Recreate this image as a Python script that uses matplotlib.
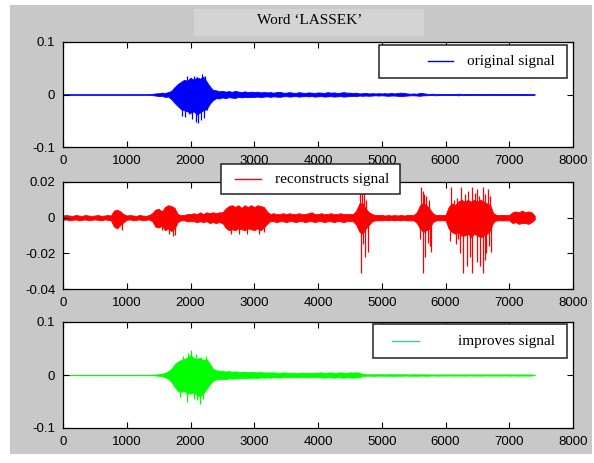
"""
Word 'LASSEK': original, reconstructed and improved speech signal.
Each waveform is stored as its upper/lower envelope every 50 samples
plus the isolated peaks that stick out of it, read off the reference.
"""

import numpy as np
import matplotlib
matplotlib.use('Agg')
import matplotlib.pyplot as plt
from matplotlib.patches import Rectangle
from matplotlib.lines import Line2D

W, H = 594, 463          # output size in pixels
STEP = 50                # samples between two stored envelope values

title = "Word \u2018LASSEK\u2019"
labels = ["original signal", "reconstructs signal", "improves signal"]
x_ticks = [0, 1000, 2000, 3000, 4000, 5000, 6000, 7000, 8000]

# ---- original signal (envelope at samples 0, 50, ..., 7400) ----
blue_hi = [
    0.0003, 0.0004, 0.0003, 0.0004, 0.0003, 0.0003, 0.0004, 0.0003, 0.0004, 0.0003,
    0.0003, 0.0004, 0.0003, 0.0004, 0.0003, 0.0003, 0.0004, 0.0003, 0.0004, 0.0003,
    0.0003, 0.0004, 0.0003, 0.0004, 0.0003, 0.0004, 0.0003, 0.0005, 0.0012, 0.0020,
    0.0025, 0.0035, 0.0030, 0.0045, 0.0070, 0.0140, 0.0200, 0.0240, 0.0280, 0.0260,
    0.0320, 0.0280, 0.0330, 0.0300, 0.0340, 0.0250, 0.0160, 0.0090, 0.0080, 0.0060,
    0.0070, 0.0055, 0.0065, 0.0050, 0.0070, 0.0055, 0.0045, 0.0060, 0.0045, 0.0055,
    0.0045, 0.0055, 0.0040, 0.0050, 0.0040, 0.0045, 0.0035, 0.0045, 0.0050, 0.0035,
    0.0035, 0.0045, 0.0035, 0.0030, 0.0045, 0.0035, 0.0030, 0.0040, 0.0035, 0.0030,
    0.0040, 0.0035, 0.0030, 0.0045, 0.0035, 0.0040, 0.0030, 0.0035, 0.0045, 0.0035,
    0.0035, 0.0030, 0.0035, 0.0020, 0.0025, 0.0030, 0.0020, 0.0025, 0.0020, 0.0025,
    0.0020, 0.0025, 0.0020, 0.0030, 0.0020, 0.0030, 0.0035, 0.0030, 0.0020, 0.0015,
    0.0020, 0.0015, 0.0030, 0.0025, 0.0015, 0.0010, 0.0015, 0.0010, 0.0012, 0.0010,
    0.0010, 0.0012, 0.0008, 0.0010, 0.0015, 0.0010, 0.0008, 0.0010, 0.0008, 0.0012,
    0.0010, 0.0008, 0.0012, 0.0008, 0.0010, 0.0012, 0.0008, 0.0010, 0.0008, 0.0010,
    0.0008, 0.0010, 0.0012, 0.0010, 0.0008, 0.0010, 0.0008, 0.0008, 0.0003,
]
blue_lo = [
    -0.0003, -0.0004, -0.0003, -0.0004, -0.0003, -0.0003, -0.0004, -0.0003, -0.0004, -0.0003,
    -0.0003, -0.0004, -0.0003, -0.0004, -0.0003, -0.0003, -0.0004, -0.0003, -0.0004, -0.0003,
    -0.0003, -0.0004, -0.0003, -0.0004, -0.0003, -0.0004, -0.0003, -0.0005, -0.0012, -0.0020,
    -0.0030, -0.0025, -0.0045, -0.0040, -0.0090, -0.0160, -0.0220, -0.0280, -0.0300, -0.0320,
    -0.0350, -0.0320, -0.0380, -0.0340, -0.0300, -0.0280, -0.0180, -0.0110, -0.0070, -0.0075,
    -0.0055, -0.0070, -0.0050, -0.0060, -0.0065, -0.0045, -0.0055, -0.0045, -0.0050, -0.0045,
    -0.0045, -0.0040, -0.0050, -0.0040, -0.0035, -0.0045, -0.0035, -0.0040, -0.0045, -0.0035,
    -0.0030, -0.0040, -0.0035, -0.0030, -0.0040, -0.0035, -0.0030, -0.0035, -0.0030, -0.0040,
    -0.0035, -0.0030, -0.0040, -0.0035, -0.0030, -0.0040, -0.0035, -0.0030, -0.0040, -0.0035,
    -0.0030, -0.0025, -0.0030, -0.0020, -0.0025, -0.0020, -0.0025, -0.0020, -0.0015, -0.0020,
    -0.0015, -0.0020, -0.0025, -0.0020, -0.0020, -0.0025, -0.0030, -0.0025, -0.0020, -0.0015,
    -0.0015, -0.0020, -0.0025, -0.0015, -0.0015, -0.0010, -0.0012, -0.0015, -0.0010, -0.0010,
    -0.0010, -0.0008, -0.0012, -0.0010, -0.0015, -0.0008, -0.0010, -0.0008, -0.0012, -0.0008,
    -0.0008, -0.0010, -0.0008, -0.0012, -0.0008, -0.0010, -0.0010, -0.0008, -0.0010, -0.0008,
    -0.0010, -0.0008, -0.0010, -0.0008, -0.0012, -0.0008, -0.0010, -0.0008, -0.0003,
]
blue_peak_x = [1870, 1920, 1980, 2030, 2080, 2110, 2160, 2210, 2260,
               1950, 2060, 2180, 2230]
blue_peak_y = [-0.040, -0.042, -0.038, -0.046, -0.052, -0.054, -0.048, -0.044, -0.030,
               0.035, 0.036, 0.039, 0.036]

# ---- reconstructed signal ----
red_hi = [
    0.0012, 0.0015, 0.0012, 0.0010, 0.0015, 0.0012, 0.0010, 0.0015, 0.0012, 0.0010,
    0.0012, 0.0015, 0.0010, 0.0012, 0.0015, 0.0012, 0.0040, 0.0045, 0.0035, 0.0020,
    0.0012, 0.0015, 0.0012, 0.0010, 0.0015, 0.0012, 0.0010, 0.0015, 0.0025, 0.0045,
    0.0050, 0.0035, 0.0060, 0.0070, 0.0065, 0.0055, 0.0020, 0.0015, 0.0015, 0.0020,
    0.0020, 0.0025, 0.0020, 0.0030, 0.0020, 0.0030, 0.0025, 0.0030, 0.0025, 0.0030,
    0.0030, 0.0050, 0.0065, 0.0070, 0.0060, 0.0070, 0.0055, 0.0070, 0.0060, 0.0070,
    0.0060, 0.0070, 0.0065, 0.0060, 0.0035, 0.0020, 0.0025, 0.0020, 0.0020, 0.0025,
    0.0020, 0.0025, 0.0020, 0.0020, 0.0025, 0.0020, 0.0020, 0.0025, 0.0030, 0.0020,
    0.0020, 0.0025, 0.0020, 0.0020, 0.0025, 0.0020, 0.0020, 0.0025, 0.0020, 0.0020,
    0.0020, 0.0020, 0.0040, 0.0080, 0.0080, 0.0050, 0.0030, 0.0020, 0.0015, 0.0015,
    0.0015, 0.0012, 0.0015, 0.0012, 0.0015, 0.0012, 0.0015, 0.0012, 0.0015, 0.0015,
    0.0015, 0.0030, 0.0070, 0.0080, 0.0070, 0.0050, 0.0025, 0.0015, 0.0015, 0.0015,
    0.0015, 0.0060, 0.0080, 0.0070, 0.0090, 0.0100, 0.0090, 0.0100, 0.0090, 0.0100,
    0.0090, 0.0100, 0.0090, 0.0080, 0.0070, 0.0025, 0.0015, 0.0015, 0.0015, 0.0015,
    0.0015, 0.0030, 0.0035, 0.0030, 0.0040, 0.0030, 0.0035, 0.0030, 0.0010,
]
red_lo = [
    -0.0012, -0.0010, -0.0015, -0.0012, -0.0010, -0.0015, -0.0012, -0.0010, -0.0015, -0.0012,
    -0.0010, -0.0012, -0.0015, -0.0010, -0.0012, -0.0015, -0.0050, -0.0060, -0.0040, -0.0025,
    -0.0012, -0.0010, -0.0015, -0.0012, -0.0010, -0.0015, -0.0012, -0.0010, -0.0020, -0.0050,
    -0.0055, -0.0045, -0.0070, -0.0060, -0.0075, -0.0060, -0.0025, -0.0015, -0.0015, -0.0020,
    -0.0020, -0.0020, -0.0025, -0.0020, -0.0025, -0.0020, -0.0030, -0.0025, -0.0030, -0.0025,
    -0.0030, -0.0055, -0.0070, -0.0065, -0.0070, -0.0060, -0.0065, -0.0070, -0.0060, -0.0065,
    -0.0070, -0.0060, -0.0070, -0.0055, -0.0035, -0.0020, -0.0020, -0.0025, -0.0020, -0.0020,
    -0.0025, -0.0020, -0.0020, -0.0025, -0.0020, -0.0020, -0.0025, -0.0020, -0.0020, -0.0025,
    -0.0020, -0.0020, -0.0025, -0.0020, -0.0020, -0.0025, -0.0020, -0.0020, -0.0025, -0.0020,
    -0.0020, -0.0020, -0.0040, -0.0080, -0.0090, -0.0060, -0.0040, -0.0020, -0.0015, -0.0015,
    -0.0015, -0.0012, -0.0015, -0.0012, -0.0015, -0.0012, -0.0015, -0.0012, -0.0015, -0.0015,
    -0.0015, -0.0030, -0.0060, -0.0080, -0.0070, -0.0060, -0.0025, -0.0015, -0.0015, -0.0015,
    -0.0015, -0.0060, -0.0080, -0.0090, -0.0080, -0.0100, -0.0100, -0.0090, -0.0110, -0.0090,
    -0.0100, -0.0110, -0.0100, -0.0090, -0.0070, -0.0025, -0.0015, -0.0015, -0.0015, -0.0015,
    -0.0015, -0.0030, -0.0025, -0.0035, -0.0030, -0.0030, -0.0035, -0.0025, -0.0010,
]
red_peak_x = [920, 1560, 1660, 1720, 1760,
              2630, 2760, 2880, 3070, 3150,
              4660, 4690, 4720, 4760, 4675, 4700, 4730, 4780,
              5610, 5640, 5660, 5700, 5740,
              5600, 5640, 5680, 5720, 5750, 5770,
              6080, 6130, 6180, 6250, 6300, 6360, 6420, 6460, 6500, 6530,
              6590, 6620, 6660, 6700,
              6070, 6160, 6200, 6230, 6280, 6340, 6380, 6410, 6490, 6540,
              6590, 6620, 6640, 6680, 6720]
red_peak_y = [-0.0070, -0.0070, -0.0090, -0.0100, -0.0095,
              -0.0090, -0.0090, -0.0092, -0.0090, -0.0080,
              0.021, 0.021, 0.021, 0.010, -0.031, -0.015, -0.022, -0.019,
              0.017, 0.015, 0.013, 0.012, 0.010,
              -0.012, -0.031, -0.022, -0.014, -0.016, -0.019,
              0.017, 0.010, 0.011, 0.017, 0.013, 0.015, 0.017, 0.014, 0.016, 0.012,
              0.017, 0.013, 0.016, 0.012,
              -0.013, -0.015, -0.012, -0.020, -0.031, -0.027, -0.022, -0.031, -0.025, -0.027,
              -0.031, -0.024, -0.020, -0.016, -0.019]

# ---- improved signal ----
green_hi = [
    0.0003, 0.0004, 0.0003, 0.0004, 0.0003, 0.0003, 0.0004, 0.0003, 0.0004, 0.0003,
    0.0003, 0.0004, 0.0003, 0.0004, 0.0003, 0.0003, 0.0004, 0.0003, 0.0004, 0.0003,
    0.0003, 0.0004, 0.0003, 0.0004, 0.0003, 0.0004, 0.0003, 0.0004, 0.0005, 0.0008,
    0.0015, 0.0025, 0.0040, 0.0070, 0.0120, 0.0200, 0.0250, 0.0280, 0.0300, 0.0330,
    0.0380, 0.0320, 0.0300, 0.0330, 0.0280, 0.0300, 0.0220, 0.0120, 0.0090, 0.0080,
    0.0080, 0.0065, 0.0075, 0.0060, 0.0070, 0.0060, 0.0055, 0.0065, 0.0050, 0.0060,
    0.0055, 0.0050, 0.0060, 0.0045, 0.0050, 0.0045, 0.0050, 0.0045, 0.0040, 0.0050,
    0.0045, 0.0040, 0.0045, 0.0035, 0.0040, 0.0045, 0.0040, 0.0045, 0.0035, 0.0045,
    0.0045, 0.0050, 0.0040, 0.0045, 0.0050, 0.0040, 0.0045, 0.0050, 0.0045, 0.0040,
    0.0050, 0.0045, 0.0050, 0.0045, 0.0020, 0.0015, 0.0012, 0.0015, 0.0012, 0.0015,
    0.0015, 0.0012, 0.0015, 0.0015, 0.0012, 0.0015, 0.0012, 0.0015, 0.0012, 0.0012,
    0.0015, 0.0012, 0.0012, 0.0015, 0.0012, 0.0012, 0.0010, 0.0012, 0.0010, 0.0012,
    0.0010, 0.0012, 0.0010, 0.0010, 0.0012, 0.0010, 0.0010, 0.0012, 0.0010, 0.0010,
    0.0012, 0.0010, 0.0010, 0.0012, 0.0010, 0.0010, 0.0012, 0.0010, 0.0010, 0.0012,
    0.0010, 0.0010, 0.0012, 0.0010, 0.0010, 0.0012, 0.0010, 0.0010, 0.0003,
]
green_lo = [
    -0.0003, -0.0004, -0.0003, -0.0004, -0.0003, -0.0003, -0.0004, -0.0003, -0.0004, -0.0003,
    -0.0003, -0.0004, -0.0003, -0.0004, -0.0003, -0.0003, -0.0004, -0.0003, -0.0004, -0.0003,
    -0.0003, -0.0004, -0.0003, -0.0004, -0.0003, -0.0004, -0.0003, -0.0004, -0.0005, -0.0008,
    -0.0015, -0.0025, -0.0040, -0.0070, -0.0130, -0.0220, -0.0300, -0.0320, -0.0300, -0.0350,
    -0.0350, -0.0330, -0.0380, -0.0400, -0.0350, -0.0260, -0.0180, -0.0110, -0.0080, -0.0080,
    -0.0070, -0.0080, -0.0060, -0.0070, -0.0060, -0.0065, -0.0050, -0.0060, -0.0055, -0.0050,
    -0.0050, -0.0055, -0.0045, -0.0050, -0.0045, -0.0050, -0.0040, -0.0045, -0.0050, -0.0040,
    -0.0040, -0.0045, -0.0035, -0.0040, -0.0045, -0.0035, -0.0040, -0.0045, -0.0040, -0.0035,
    -0.0040, -0.0045, -0.0050, -0.0040, -0.0045, -0.0050, -0.0040, -0.0045, -0.0050, -0.0045,
    -0.0045, -0.0050, -0.0045, -0.0040, -0.0020, -0.0015, -0.0012, -0.0015, -0.0015, -0.0012,
    -0.0012, -0.0015, -0.0012, -0.0015, -0.0015, -0.0012, -0.0015, -0.0012, -0.0012, -0.0015,
    -0.0012, -0.0015, -0.0012, -0.0012, -0.0015, -0.0012, -0.0010, -0.0012, -0.0012, -0.0010,
    -0.0012, -0.0010, -0.0010, -0.0012, -0.0010, -0.0010, -0.0012, -0.0010, -0.0010, -0.0012,
    -0.0010, -0.0012, -0.0010, -0.0010, -0.0012, -0.0010, -0.0010, -0.0012, -0.0010, -0.0010,
    -0.0012, -0.0010, -0.0010, -0.0012, -0.0010, -0.0010, -0.0012, -0.0010, -0.0003,
]
green_peak_x = [1880, 1960, 2000, 2080, 2250,
                1830, 1950, 2050, 2100, 2150, 2200]
green_peak_y = [0.035, 0.042, 0.047, 0.040, 0.036,
                -0.042, -0.050, -0.045, -0.048, -0.055, -0.046]

SANS = ['Liberation Sans', 'DejaVu Sans']
SERIF = ['Liberation Serif', 'DejaVu Serif']
plt.rcParams['axes.unicode_minus'] = False
plt.rcParams['font.family'] = SANS


def fig_box(x0, y0, x1, y1):
    """pixel box (top-left origin) -> figure fraction [l, b, w, h]"""
    return [x0 / W, 1 - y1 / H, (x1 - x0) / W, (y1 - y0) / H]


def fx(x):
    return x / W


def fy(y):
    return 1 - y / H


def draw_wave(ax, hi, lo, peak_x, peak_y, color, ylim, yticks, yticklabels):
    x = np.arange(len(hi)) * STEP
    ax.fill_between(x, lo, hi, facecolor=color, edgecolor=color, linewidth=0.6)
    ax.vlines(peak_x, 0, peak_y, color=color, linewidth=0.9)
    ax.set_xlim(0, 8000)
    ax.set_ylim(*ylim)
    ax.set_xticks(x_ticks)
    ax.set_xticklabels([str(t) for t in x_ticks])
    ax.set_yticks(yticks)
    ax.set_yticklabels(yticklabels)
    ax.tick_params(direction='in', top=True, right=True, length=4,
                   width=0.8, labelsize=9.5, pad=5.5)
    for s in ax.spines.values():
        s.set_linewidth(0.9)


def draw_legend(fig, box, line_x, line_y, text_right, text, color):
    x0, y0, x1, y1 = box
    l, b, w, h = fig_box(x0, y0, x1, y1)
    fig.add_artist(Rectangle((l, b), w, h, transform=fig.transFigure,
                             facecolor='white', edgecolor='#222222',
                             linewidth=1.1, zorder=5))
    fig.add_artist(Line2D([fx(line_x[0]), fx(line_x[1])], [fy(line_y)] * 2,
                          transform=fig.transFigure, color=color,
                          linewidth=1.0, zorder=6))
    fig.text(fx(text_right), fy(line_y), text, ha='right', va='center',
             fontsize=11, family=SERIF, zorder=6)


def main():
    fig = plt.figure(figsize=(W / 100, H / 100), dpi=100, facecolor='white')

    # grey MATLAB-like window background and the lighter title patch
    l, b, w, h = fig_box(10, 5, 592, 454)
    fig.add_artist(Rectangle((l, b), w, h, transform=fig.transFigure,
                             facecolor='#c8c8c8', edgecolor='none', zorder=-10))
    l, b, w, h = fig_box(194, 9, 424, 36)
    fig.add_artist(Rectangle((l, b), w, h, transform=fig.transFigure,
                             facecolor='#d4d4d4', edgecolor='none', zorder=-9))
    fig.text(fx(310), fy(21), title, ha='center', va='center',
             fontsize=11, family=SERIF)

    ax1 = fig.add_axes(fig_box(63, 42, 573, 147))
    ax2 = fig.add_axes(fig_box(63, 182, 573, 289))
    ax3 = fig.add_axes(fig_box(63, 322, 573, 428))

    draw_wave(ax1, blue_hi, blue_lo, blue_peak_x, blue_peak_y, '#0000ff',
              (-0.1, 0.1), [-0.1, 0, 0.1], ['-0.1', '0', '0.1'])
    draw_wave(ax2, red_hi, red_lo, red_peak_x, red_peak_y, '#ff0000',
              (-0.04, 0.02), [-0.04, -0.02, 0, 0.02],
              ['-0.04', '-0.02', '0', '0.02'])
    draw_wave(ax3, green_hi, green_lo, green_peak_x, green_peak_y, '#00ff00',
              (-0.1, 0.1), [-0.1, 0, 0.1], ['-0.1', '0', '0.1'])

    draw_legend(fig, (379, 45, 567, 78), (428, 453), 61, 555, labels[0], '#0000ff')
    draw_legend(fig, (221, 164, 400, 194), (235, 261), 179, 389, labels[1], '#ff0000')
    draw_legend(fig, (373, 324, 567, 358), (392, 419), 341, 555, labels[2], '#40cc90')

    fig.savefig("out.png", dpi=100, facecolor='white')
    plt.close(fig)


if __name__ == "__main__":
    main()
